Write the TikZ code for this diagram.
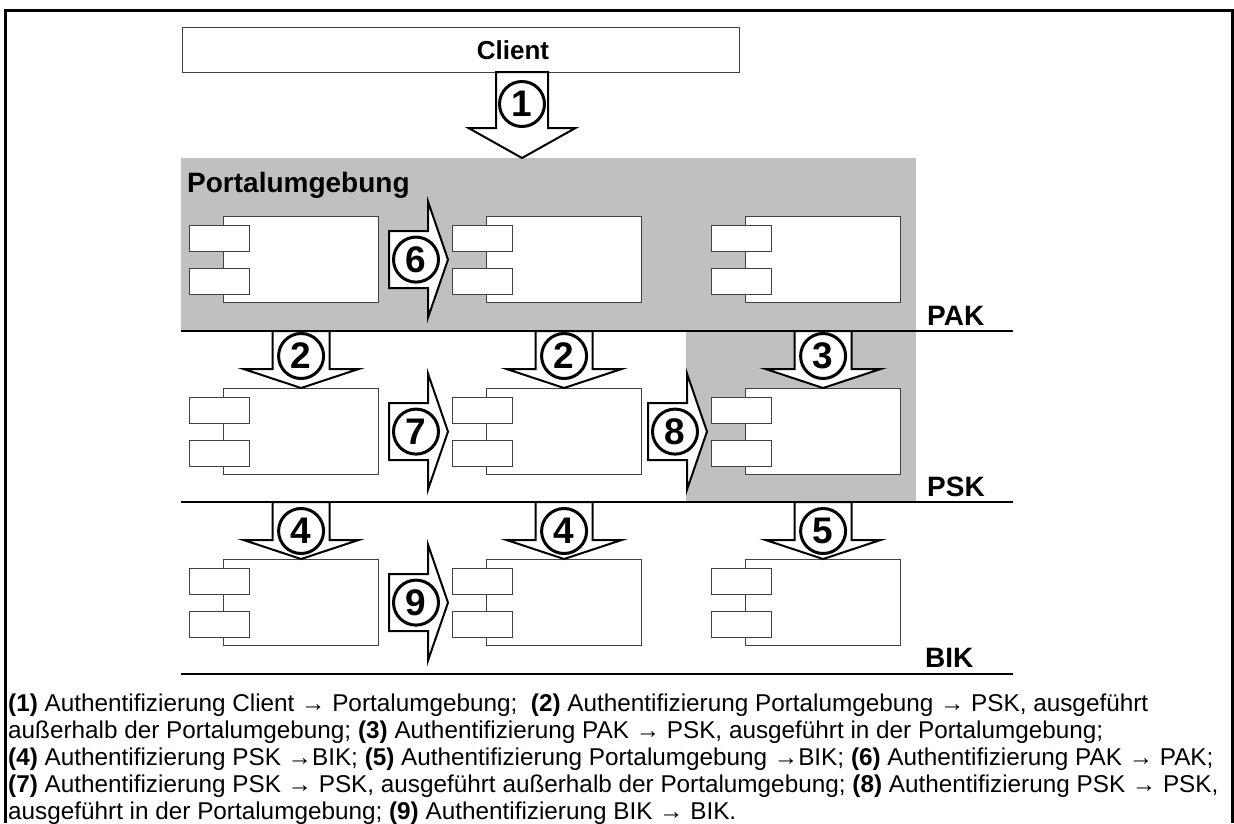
\documentclass[tikz,border=0pt]{standalone}
\usepackage{fontspec}
\setmainfont{Liberation Sans}
\usetikzlibrary{calc}
\definecolor{zonegray}{HTML}{C0C0C0}
\definecolor{boxline}{HTML}{404040}

\tikzset{
  compbox/.style={draw=boxline, fill=white, line width=1.2pt, minimum width=155pt,
    minimum height=86pt, inner sep=0pt, anchor=north west},
  comppart/.style={draw=boxline, fill=white, line width=1.2pt, minimum width=60pt,
    minimum height=26pt, inner sep=0pt, anchor=north west},
  bigarrow/.style={draw=black, fill=white, line width=2pt, line join=miter},
  stepnum/.style={circle, draw=black, fill=white, line width=3pt, minimum size=45pt,
    inner sep=0pt, font=\bfseries\fontsize{37}{37}\selectfont},
  layerline/.style={draw=black, line width=1.5pt},
  layerlabel/.style={anchor=base west, inner sep=0pt, font=\bfseries\fontsize{28}{28}\selectfont},
  legendline/.style={anchor=base west, inner sep=0pt, font=\fontsize{24.3}{27}\selectfont},
}

% component symbol: body plus two connector tabs on its left edge
\newcommand{\umcomp}[3]{%
  \node[compbox] (#1) at (#2,#3) {};
  \node[comppart] (#1-p1) at ($(#1.north west)+(-34,8.5)$) {};
  \node[comppart] (#1-p2) at ($(#1.north west)+(-34,51.5)$) {};
}

% downward block arrow: name, tip, length, head length, shaft half width,
% head half width, distance of the numbered circle above the tip, digit
\newcommand{\dnstep}[8]{%
  \draw[bigarrow] (#2) -- ++({-#6},{-#4}) -- ++({#6-#5},0) -- ++(0,{-(#3-#4)})
    -- ++({2*#5},0) -- ++(0,{#3-#4}) -- ++({#6-#5},0) -- cycle;
  \node[stepnum] (#1) at ($(#2)+(0,{-#7})$) {#8};
}

% rightward block arrow: name, tip, digit
\newcommand{\rtstep}[3]{%
  \draw[bigarrow] (#2) -- ++(-20,-58) -- ++(0,29.5) -- ++(-39,0) -- ++(0,57)
    -- ++(39,0) -- ++(0,29.5) -- cycle;
  \node[stepnum] (#1) at ($(#2)+(-32,0)$) {#3};
}

\begin{document}
\begin{tikzpicture}[x=1pt, y=-1pt]
\useasboundingbox (0,0) rectangle (1234,823);
\fill[white] (0,0) rectangle (1234,823);

% shaded zones
\fill[zonegray] (181,158) rectangle (916,331);
\fill[zonegray] (686,331) rectangle (916,502);

% outer frame
\draw[line width=3pt] (5,823) -- (5,10) -- (1232,10) -- (1232,823);

% layer separators
\draw[layerline] (181,331) -- (1013,331);
\draw[layerline] (181,502) -- (1013,502);
\draw[layerline] (181,674) -- (1013,674);

\node[layerlabel] (pak) at (927,325) {PAK};
\node[layerlabel] (psk) at (927,496) {PSK};
\node[layerlabel] (bik) at (925,667) {BIK};
\node[layerlabel] (zone) at (187,192) {Portalumgebung};

% client
\node[draw=boxline, fill=white, line width=1.2pt, minimum width=557pt, minimum height=45pt,
  inner sep=0pt, anchor=north west] (client) at (182,27) {};
\node[font=\bfseries\fontsize{26}{26}\selectfont, inner sep=0pt] (clienttext) at (513,50) {Client};

% components
\umcomp{c11}{223}{216}
\umcomp{c12}{486}{216}
\umcomp{c13}{745}{216}
\umcomp{c21}{223}{388}
\umcomp{c22}{486}{388}
\umcomp{c23}{745}{388}
\umcomp{c31}{223}{559}
\umcomp{c32}{486}{559}
\umcomp{c33}{745}{559}

% arrow tips
\coordinate (t1) at (522,158);
\coordinate (t6) at ($(c12.west)+(-38,0)$);
\coordinate (t7) at ($(c22.west)+(-38,0)$);
\coordinate (t8) at ($(c23.west)+(-38,0)$);
\coordinate (t9) at ($(c32.west)+(-38,0)$);

% numbered authentication steps
\dnstep{s1}{t1}{86}{30}{26}{53.5}{54}{1}
\dnstep{s2a}{c21.north}{57}{19}{28.5}{57.5}{32}{2}
\dnstep{s2b}{c22.north}{57}{19}{28.5}{57.5}{32}{2}
\dnstep{s3}{c23.north}{57}{19}{28.5}{57.5}{32}{3}
\dnstep{s4a}{c31.north}{57}{19}{28.5}{57.5}{28}{4}
\dnstep{s4b}{c32.north}{57}{19}{28.5}{57.5}{28}{4}
\dnstep{s5}{c33.north}{57}{19}{28.5}{57.5}{28}{5}
\rtstep{s6}{t6}{6}
\rtstep{s7}{t7}{7}
\rtstep{s8}{t8}{8}
\rtstep{s9}{t9}{9}

% legend
\node[legendline] (l1) at (8,711) {\textbf{(1)} Authentifizierung Client → Portalumgebung;\ \ \textbf{(2)} Authentifizierung Portalumgebung → PSK, ausgeführt};
\node[legendline] (l2) at (8,738) {außerhalb der Portalumgebung; \textbf{(3)} Authentifizierung PAK → PSK, ausgeführt in der Portalumgebung;};
\node[legendline] (l3) at (8,765) {\textbf{(4)} Authentifizierung PSK →BIK; \textbf{(5)} Authentifizierung Portalumgebung →BIK; \textbf{(6)} Authentifizierung PAK → PAK;};
\node[legendline] (l4) at (8,792) {\textbf{(7)} Authentifizierung PSK → PSK, ausgeführt außerhalb der Portalumgebung; \textbf{(8)} Authentifizierung PSK → PSK,};
\node[legendline] (l5) at (8,819) {ausgeführt in der Portalumgebung; \textbf{(9)} Authentifizierung BIK → BIK.};
\end{tikzpicture}
\end{document}
